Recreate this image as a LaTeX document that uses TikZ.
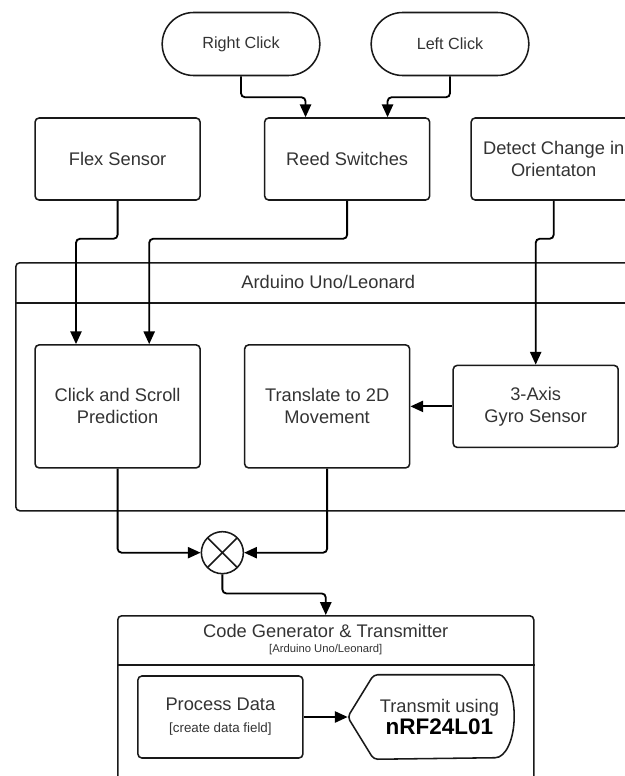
\documentclass[tikz,border=0pt]{standalone}
\usepackage{fontspec}
\setmainfont{Liberation Sans}
\usetikzlibrary{arrows.meta,positioning,calc,shapes.misc}

\begin{document}
\begin{tikzpicture}[
    block/.style={draw=black!90, line width=1.1pt, rounded corners=0.1cm, minimum width=4.125cm, minimum height=2.05cm, align=center, text=black!80, font=\fontsize{13}{15.6}\selectfont},
    pill/.style={draw=black!90, line width=1.1pt, rounded rectangle, minimum width=4.175cm, minimum height=1.575cm, text=black!80, font=\fontsize{11.5}{14}\selectfont},
    group/.style={draw=black!90, line width=1.1pt, rounded corners=0.1cm, anchor=north west},
    title/.style={text=black!80, font=\fontsize{13}{15.6}\selectfont},
    mux/.style={circle, draw=black!90, line width=1.1pt, minimum size=1.05cm, inner sep=0pt,
      path picture={\draw[line width=1.1pt] (path picture bounding box.south west) -- (path picture bounding box.north east)
        (path picture bounding box.north west) -- (path picture bounding box.south east);}},
    flow/.style={-{Triangle[length=3.2mm, width=2.8mm]}, line width=1.3pt, rounded corners=0.1cm},
    node distance=1cm,
  ]
  \useasboundingbox (0,0) rectangle (15.625,-19.4);

  % Inputs
  \node[pill] (rclick) at (6.025,-1.1) {Right Click};
  \node[pill] (lclick) at (11.25,-1.1) {Left Click};
  \node[block] (flex) at (2.94,-3.975) {Flex Sensor};
  \node[block, right=1.575cm of flex] (reed) {Reed Switches};
  \node[block, right=of reed] (detect) {Detect Change in\\Orientaton};

  % Arduino board
  \node[group, minimum width=15.625cm, minimum height=6.2cm] (arduino) at (0.375,-6.55) {};
  \node[title] (arduinotitle) at ($(arduino.north)+(0,-0.5)$) {Arduino Uno/Leonard};
  \draw[line width=1.1pt, black!90] ($(arduino.north west)+(0,-1.025)$) -- ($(arduino.north east)+(0,-1.025)$);
  \node[block, minimum height=3.075cm] (click) at (2.94,-10.16) {Click and Scroll\\Prediction};
  \node[block, minimum height=3.075cm, right=1.075cm of click] (translate) {Translate to 2D\\Movement};
  \node[block, right=1.05cm of translate] (gyro) {3-Axis\\Gyro Sensor};

  % Combiner
  \node[mux] (mux) at ($(click.south)!0.5!(translate.south)+(0,-2.1)$) {};

  % Code generator
  \node[group, minimum width=10.4cm, minimum height=5.2cm] (code) at (2.925,-15.375) {};
  \node[title] (codetitle) at ($(code.north)+(0,-0.4)$) {Code Generator \& Transmitter};
  \node[text=black!80, font=\fontsize{8}{9}\selectfont] (codesub) at ($(code.north)+(0,-0.875)$) {[Arduino Uno/Leonard]};
  \draw[line width=1.1pt, black!90] ($(code.north west)+(0,-1.25)$) -- ($(code.north east)+(0,-1.25)$);
  \node[block] (process) at (5.51,-17.925) {Process Data\\{\fontsize{9.5}{11}\selectfont [create data field]}};
  \node[block, draw=none, minimum width=3.7cm, minimum height=2.075cm, right=1.525cm of process, font=\fontsize{13}{16}\selectfont] (transmit) {Transmit using\\{\bfseries\fontsize{16}{19}\selectfont\color{black} nRF24L01}};
  \coordinate (tip) at ($(transmit.west)+(-0.425,0)$);
  \draw[line width=1.1pt, black!90, rounded corners=0.1cm] (tip) -- ($(transmit.north west)+(0.225,0)$)
    -- ($(transmit.north east)+(-0.475,0)$) [sharp corners] arc[start angle=90, end angle=-90, x radius=0.475cm, y radius=1.0375cm]
    [rounded corners=0.1cm] -- ($(transmit.south west)+(0.225,0)$) -- cycle;

  % Connections
  \draw[flow] (rclick.south) -- ++(0,-0.525) -| ($(reed.north)+(-1.04,0)$);
  \draw[flow] (lclick.south) -- ++(0,-0.525) -| ($(reed.north)+(1.01,0)$);
  \draw[flow] (flex.south) -- ++(0,-0.95) -| ($(click.north)+(-1.04,0)$);
  \draw[flow] (reed.south) -- ++(0,-0.95) -| ($(click.north)+(0.79,0)$);
  \draw[flow] (detect.south) -- ++(0,-0.95) -| (gyro.north);
  \draw[flow] (gyro) -- (translate);
  \draw[flow] (click.south) |- (mux.west);
  \draw[flow] (translate.south) |- (mux.east);
  \draw[flow] (mux.south) -- ++(0,-0.475) -| (code.north);
  \draw[flow] (process) -- (tip);
\end{tikzpicture}
\end{document}
